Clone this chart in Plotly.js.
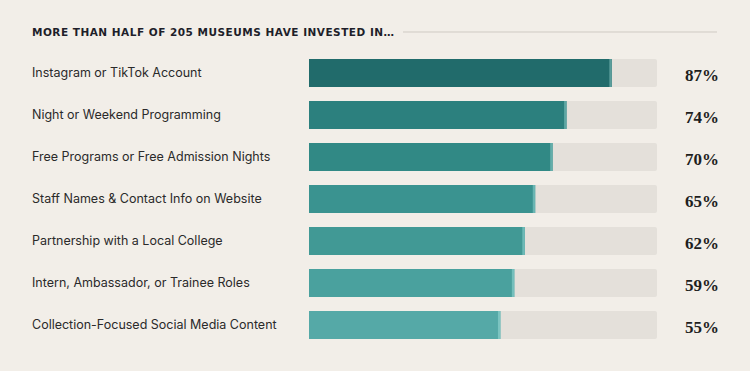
<!DOCTYPE html>
<html><head><meta charset="utf-8">
<script src="https://cdn.plot.ly/plotly-3.0.1.min.js"></script>
<style>html,body{margin:0;padding:0;background:#f2eee8;}</style>
</head><body>
<div id="chart" style="width:750px;height:371px;"></div>
<script>
const categories = [
  "Instagram or TikTok Account",
  "Night or Weekend Programming",
  "Free Programs or Free Admission Nights",
  "Staff Names & Contact Info on Website",
  "Partnership with a Local College",
  "Intern, Ambassador, or Trainee Roles",
  "Collection-Focused Social Media Content"
];
const values = [87, 74, 70, 65, 62, 59, 55];
const valueLabels = ["87%", "74%", "70%", "65%", "62%", "59%", "55%"];
const titleText = "MORE THAN HALF OF 205 MUSEUMS HAVE INVESTED IN\u2026";

const barColors = ["#216b6b", "#2c807e", "#318985", "#3a9390", "#419995", "#4aa19e", "#55a9a7"];
const capColors = ["#5a9d9b", "#5fa7a4", "#64aeab", "#69b5b2", "#6dbab7", "#74bfbc", "#7cc4c1"];
const idx = categories.map((_, i) => i);
const capW = 0.7;

const track = {
  type: "bar", orientation: "h", y: idx, x: idx.map(() => 100),
  marker: {color: "#e4e0da", cornerradius: 2}, width: 0.667,
  hoverinfo: "skip", showlegend: false
};
const bars = {
  type: "bar", orientation: "h", y: idx, x: values,
  marker: {color: barColors, cornerradius: 3}, width: 0.667,
  hoverinfo: "skip", showlegend: false
};
const caps = {
  type: "bar", orientation: "h", y: idx, x: values.map(() => capW),
  base: values.map(v => v - capW),
  marker: {color: capColors}, width: 0.667,
  hoverinfo: "skip", showlegend: false
};

const annotations = [];
categories.forEach((c, i) => {
  annotations.push({xref: "paper", yref: "y", x: 30/750, y: i - 0.02, xanchor: "left", yanchor: "middle",
    text: c, showarrow: false, font: {family: "Inter, 'Noto Sans', sans-serif", size: 12.5, color: "#2a2a2a"}});
  annotations.push({xref: "paper", yref: "y", x: 702/750, y: i + 0.05, xanchor: "center", yanchor: "middle",
    text: valueLabels[i], showarrow: false, font: {family: "'Liberation Serif', serif", size: 17, color: "#1e1e1e", weight: 700}});
});
annotations.push({xref: "paper", yref: "paper", x: 30/750, y: 1 - 32/371, xanchor: "left", yanchor: "middle",
  text: titleText, showarrow: false, font: {family: "'DejaVu Sans', sans-serif", size: 10.5, color: "#1e1e2a", weight: 700}});

const layout = {
  width: 750, height: 371,
  margin: {l: 0, r: 0, t: 0, b: 0},
  paper_bgcolor: "#f2eee8", plot_bgcolor: "rgba(0,0,0,0)",
  barmode: "overlay",
  xaxis: {domain: [309/750, 657/750], range: [0, 100], visible: false, fixedrange: true},
  yaxis: {domain: [0, 1], range: [(371-73)/42, -73/42], visible: false, fixedrange: true},
  annotations: annotations,
  shapes: [{type: "line", xref: "paper", yref: "paper", x0: 403/750, x1: 717/750,
    y0: 1 - 32/371, y1: 1 - 32/371, line: {color: "#cfcac3", width: 1}}]
};
Plotly.newPlot("chart", [track, bars, caps], layout, {staticPlot: true, displayModeBar: false}).then(() => {
  const texts = document.querySelectorAll(".annotation-text");
  texts.forEach(t => {
    if (t.textContent === titleText) {
      const w0 = t.getComputedTextLength();
      const x0 = parseFloat(t.getAttribute("x") || "0");
      t.setAttribute("text-anchor", "start");
      t.style.textAnchor = "start";
      t.setAttribute("x", x0 - w0 / 2);
      t.style.letterSpacing = "0.5px";
    }
  });
});
</script>
</body></html>
